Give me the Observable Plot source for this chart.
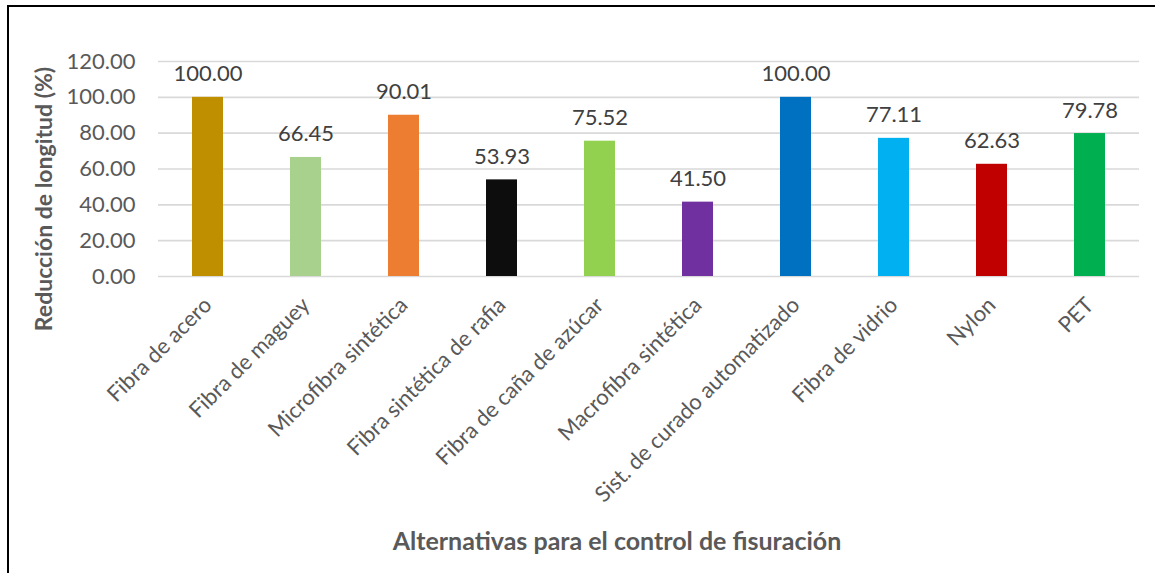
<!DOCTYPE html>
<html>
<head>
<meta charset="utf-8">
<script src="https://cdn.jsdelivr.net/npm/d3@7"></script>
<script src="https://cdn.jsdelivr.net/npm/@observablehq/plot@0.6"></script>
<style>
  html, body { margin: 0; padding: 0; background: #fff; overflow: hidden; }
  #wrap { position: relative; width: 1155px; height: 573px; }
  #frame { position: absolute; left: 7px; top: 5px; width: 2000px; height: 2000px;
           border-left: 2px solid #000; border-top: 2px solid #000; pointer-events: none; }
  svg { font-family: Lato, "Open Sans", sans-serif; }
</style>
</head>
<body>
<div id="wrap"><div id="frame"></div></div>
<script>
const categories = [
  "Fibra de acero", "Fibra de maguey", "Microfibra sintética", "Fibra sintética de rafia",
  "Fibra de caña de azúcar", "Macrofibra sintética", "Sist. de curado automatizado",
  "Fibra de vidrio", "Nylon", "PET"
];
const values = [100.00, 66.45, 90.01, 53.93, 75.52, 41.50, 100.00, 77.11, 62.63, 79.78];
const barColors = ["#BF8F00", "#A9D18E", "#ED7D31", "#0D0D0D", "#92D050",
                   "#7030A0", "#0070C0", "#00B0F0", "#C00000", "#00B050"];
const yTicks = [0, 20, 40, 60, 80, 100, 120];
const yTitle = "Reducción de longitud (%)";
const xTitle = "Alternativas para el control de fisuración";

const data = categories.map((c, i) => ({category: c, value: values[i]}));

const chart = Plot.plot({
  width: 1155,
  height: 573,
  marginLeft: 158,
  marginRight: 16,
  marginTop: 61,
  marginBottom: 297,
  style: {fontFamily: "Lato, 'Open Sans', sans-serif", background: "transparent", overflow: "visible"},
  x: {domain: categories, paddingInner: 0.684, paddingOuter: 0.342, label: null},
  y: {domain: [0, 120], label: null},
  color: {domain: categories, range: barColors},
  marks: [
    Plot.gridY(yTicks, {stroke: "#d9d9d9", strokeOpacity: 1, strokeWidth: 1.6}),
    Plot.barY(data, {x: "category", y: "value", fill: "category"}),
    Plot.text(data, {x: "category", y: "value", text: d => d.value.toFixed(2),
      lineAnchor: "bottom", dy: -16, fontSize: 22, fill: "#404040"}),
    Plot.axisY(yTicks, {tickSize: 0, tickPadding: 23, tickFormat: d => d.toFixed(2),
      fontSize: 22, color: "#595959", label: null}),
    Plot.axisX({tickSize: 0, tickRotate: -45, tickPadding: 25, fontSize: 22,
      color: "#595959", label: null}),
    Plot.text([yTitle], {frameAnchor: "left", rotate: -90, dx: -114, dy: 30,
      fontSize: 23, fontWeight: "bold", fill: "#595959", textAnchor: "middle", lineAnchor: "middle"}),
    Plot.text([xTitle], {frameAnchor: "bottom", dx: -32, dy: 265,
      fontSize: 25, fontWeight: "bold", fill: "#595959", textAnchor: "middle", lineAnchor: "middle"})
  ]
});
document.getElementById("wrap").prepend(chart);
</script>
</body>
</html>
